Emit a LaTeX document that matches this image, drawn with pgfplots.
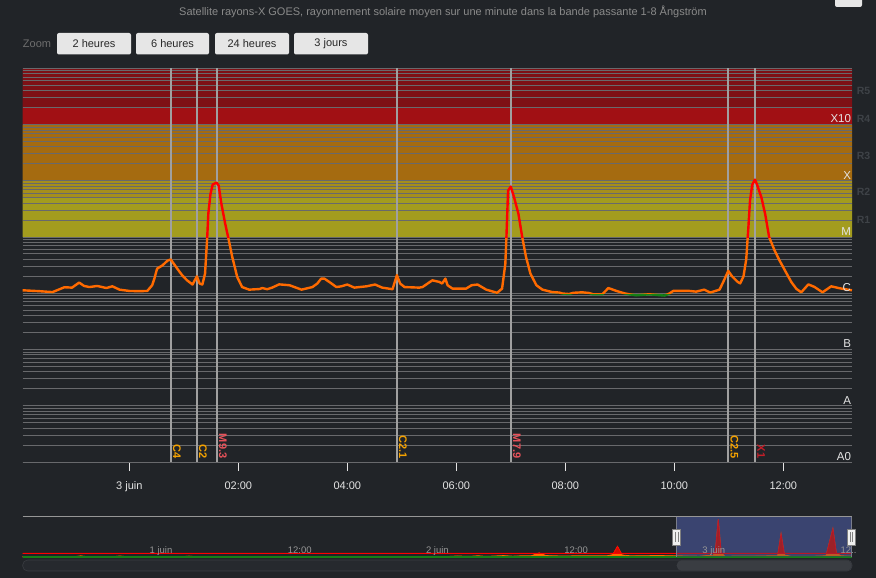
\documentclass[border=0pt]{standalone}
\usepackage{pgfplots}
\usepackage{pgfplotstable}
\pgfplotsset{compat=1.18}
\usepackage{fontspec}
\setmainfont{Liberation Sans}

\definecolor{bg}{RGB}{33,36,40}
\definecolor{gridc}{RGB}{104,105,108}
\definecolor{rfive}{RGB}{126,16,21}
\definecolor{rfour}{RGB}{161,16,20}
\definecolor{rthree}{RGB}{165,107,16}
\definecolor{rtwo}{RGB}{165,143,28}
\definecolor{rone}{RGB}{163,156,30}
\definecolor{fluxorange}{RGB}{255,106,0}
\definecolor{fluxred}{RGB}{255,0,0}
\definecolor{fluxgreen}{RGB}{22,128,22}
\definecolor{flareline}{RGB}{160,160,160}
\definecolor{labC}{RGB}{245,162,0}
\definecolor{labM}{RGB}{232,82,90}
\definecolor{labX}{RGB}{196,30,40}
\definecolor{txt}{RGB}{228,228,228}
\definecolor{titlec}{RGB}{138,138,138}
\definecolor{rlab}{RGB}{62,66,71}
\definecolor{btn}{RGB}{230,230,230}
\definecolor{btntxt}{RGB}{40,40,40}
\definecolor{navsel}{RGB}{58,68,112}
\definecolor{navline}{RGB}{150,150,150}
\definecolor{navtxt}{RGB}{150,150,150}
\definecolor{scrolltrack}{RGB}{38,41,46}
\definecolor{scrollthumb}{RGB}{58,61,66}

% GOES 1-8 A one-minute flux (hours from 3 June 00:00, W/m^2)
\pgfplotstableread{
h flux
-1.96 1.13e-6
-1.65 1.09e-6
-1.41 1.05e-6
-1.28 1.18e-6
-1.19 1.28e-6
-1.05 1.26e-6
-0.92 1.55e-6
-0.83 1.35e-6
-0.73 1.29e-6
-0.59 1.35e-6
-0.42 1.24e-6
-0.31 1.33e-6
-0.18 1.16e-6
0.00 1.10e-6
0.18 1.09e-6
0.33 1.10e-6
0.42 1.39e-6
0.46 1.82e-6
0.51 2.74e-6
0.61 3.14e-6
0.70 3.80e-6
0.76 4.00e-6
0.88 2.74e-6
0.97 2.09e-6
1.06 1.70e-6
1.16 1.43e-6
1.24 2.00e-6
1.29 1.49e-6
1.34 1.43e-6
1.39 2.24e-6
1.43 9.96e-6
1.45 2.62e-5
1.49 5.86e-5
1.53 8.57e-5
1.60 9.30e-5
1.64 8.22e-5
1.69 3.89e-5
1.76 1.72e-5
1.82 9.33e-6
1.89 4.40e-6
1.98 1.95e-6
2.07 1.29e-6
2.20 1.16e-6
2.39 1.19e-6
2.44 1.24e-6
2.53 1.18e-6
2.62 1.26e-6
2.75 1.44e-6
2.94 1.39e-6
3.16 1.16e-6
3.36 1.29e-6
3.45 1.49e-6
3.52 1.82e-6
3.58 1.82e-6
3.67 1.59e-6
3.80 1.29e-6
3.89 1.33e-6
4.00 1.43e-6
4.13 1.26e-6
4.35 1.33e-6
4.51 1.43e-6
4.64 1.26e-6
4.83 1.18e-6
4.91 2.10e-6
4.97 1.49e-6
5.05 1.29e-6
5.32 1.26e-6
5.38 1.29e-6
5.56 1.70e-6
5.69 1.59e-6
5.74 1.49e-6
5.80 1.82e-6
5.84 1.39e-6
5.93 1.21e-6
6.18 1.21e-6
6.28 1.39e-6
6.39 1.43e-6
6.55 1.16e-6
6.75 1.02e-6
6.84 1.21e-6
6.90 3.36e-6
6.92 9.96e-6
6.95 6.70e-5
7.00 7.90e-5
7.06 5.10e-5
7.14 2.59e-5
7.21 9.96e-6
7.28 4.40e-6
7.36 2.24e-6
7.47 1.39e-6
7.58 1.16e-6
7.76 1.05e-6
7.89 1.03e-6
7.95 0.99e-6
8.07 0.97e-6
8.15 1.02e-6
8.31 1.04e-6
8.44 1.01e-6
8.51 0.96e-6
8.68 0.96e-6
8.79 1.24e-6
8.94 1.10e-6
9.08 1.00e-6
9.17 0.96e-6
9.30 0.92e-6
9.54 0.96e-6
9.82 0.91e-6
9.91 0.99e-6
9.98 1.10e-6
10.28 1.10e-6
10.40 1.07e-6
10.55 1.16e-6
10.66 1.03e-6
10.83 1.16e-6
10.90 1.60e-6
10.99 2.50e-6
11.06 2.00e-6
11.16 1.60e-6
11.21 1.50e-6
11.27 2.00e-6
11.32 4.00e-6
11.36 1.50e-5
11.39 4.50e-5
11.43 8.50e-5
11.48 1.05e-4
11.52 8.50e-5
11.60 5.00e-5
11.67 2.50e-5
11.74 1.00e-5
11.84 5.80e-6
11.93 3.85e-6
12.06 2.26e-6
12.15 1.57e-6
12.24 1.20e-6
12.33 1.04e-6
12.46 1.44e-6
12.57 1.30e-6
12.72 1.04e-6
12.88 1.33e-6
13.03 1.23e-6
13.26 1.13e-6
}\fluxdata

% three-day overview (hours from 3 June 00:00, flux in 1e-5 W/m^2)
\pgfplotstableread{
h v
-58.74 0.10
-54.2 0.10
-53.7 0.28
-53.2 0.10
-50.8 0.10
-50.3 0.25
-49.8 0.10
-44.8 0.10
-44.3 0.22
-43.8 0.10
-22.0 0.10
-21.0 0.25
-20.0 0.15
-19.2 0.30
-18.5 0.15
-17.0 0.35
-16.2 0.20
-15.4 0.30
-14.6 0.28
-13.9 1.00
-13.3 0.35
-12.0 0.25
-10.0 0.30
-8.0 0.30
-7.5 0.60
-7.1 2.60
-6.7 0.50
-6.0 0.30
-3.5 0.35
-2.0 0.30
0.0 0.20
0.8 0.40
1.2 0.30
1.4 1.50
1.65 9.30
1.9 1.20
2.2 0.20
5.0 0.25
6.8 0.30
7.1 5.70
7.4 0.50
8.0 0.15
10.0 0.20
11.0 0.30
11.6 7.00
11.9 1.00
12.3 0.30
13.26 0.20
}\navdata

\newcommand\flarefont{\fontsize{11}{11}\selectfont\bfseries}
\newcommand\ylabfont{\fontsize{11.5}{12}\selectfont}

\begin{document}
\begin{tikzpicture}
\fill[bg] (0,0) rectangle (876pt,-578pt);

% title and zoom buttons
\node[titlec, font=\fontsize{11}{12}\selectfont] at (443pt,-12pt) {Satellite rayons-X GOES, rayonnement solaire moyen sur une minute dans la bande passante 1-8 Ångström};
\fill[btn, rounded corners=2pt] (835pt,3pt) rectangle (862pt,-7pt);
\node[titlec!80!black, font=\fontsize{11}{12}\selectfont] at (37pt,-44pt) {Zoom};
\foreach \xa/\xb/\lab in {57/131/2 heures, 136/209/6 heures, 215/289/24 heures, 294/368/3 jours}{
  \fill[btn, rounded corners=2pt] (\xa pt,-33pt) rectangle (\xb pt,-54.5pt);
  \node[btntxt, font=\fontsize{11}{12}\selectfont] at ({(\xa+\xb)/2*1pt},-44pt) {\lab};
}

% radio blackout bands R1..R5 (drawn first, beneath the grid)
\begin{axis}[at={(22.7pt,-462pt)}, anchor=south west, scale only axis,
  width=829.3pt, height=393.7pt, xmin=-1.956, xmax=13.261,
  ymode=log, ymin=1e-9, ymax=1e-2, hide axis]
\addplot[fill=rone, draw=none] coordinates {(-3,1e-5) (14,1e-5) (14,5e-5) (-3,5e-5) (-3,1e-5)};
\addplot[fill=rtwo, draw=none] coordinates {(-3,5e-5) (14,5e-5) (14,1e-4) (-3,1e-4) (-3,5e-5)};
\addplot[fill=rthree, draw=none] coordinates {(-3,1e-4) (14,1e-4) (14,1e-3) (-3,1e-3) (-3,1e-4)};
\addplot[fill=rfour, draw=none] coordinates {(-3,1e-3) (14,1e-3) (14,2e-3) (-3,2e-3) (-3,1e-3)};
\addplot[fill=rfive, draw=none] coordinates {(-3,2e-3) (14,2e-3) (14,1e-2) (-3,1e-2) (-3,2e-3)};
\end{axis}

\begin{axis}[
  at={(22.7pt,-462pt)}, anchor=south west,
  scale only axis, width=829.3pt, height=393.7pt,
  xmin=-1.956, xmax=13.261,
  ymode=log, ymin=1e-9, ymax=1e-2,
  axis x line*=bottom, axis y line*=left,
  x axis line style={gridc, line width=1pt},
  y axis line style={draw=none},
  ytick={1e-9,1e-8,1e-7,1e-6,1e-5,1e-4,1e-3,1e-2},
  yticklabels={}, y tick style={draw=none},
  ymajorgrids, yminorgrids,
  major grid style={gridc, line width=1pt},
  minor grid style={gridc, line width=1pt},
  xtick={0,2,4,6,8,10,12}, xticklabels={},
  tick align=outside, major tick length=9pt,
  x tick style={txt, line width=1pt},
]
% flare peak markers
\draw[flareline, line width=2pt] (axis cs:0.760,1e-9) -- (axis cs:0.760,1e-2);
\draw[flareline, line width=2pt] (axis cs:1.237,1e-9) -- (axis cs:1.237,1e-2);
\draw[flareline, line width=2pt] (axis cs:1.604,1e-9) -- (axis cs:1.604,1e-2);
\draw[flareline, line width=2pt] (axis cs:4.906,1e-9) -- (axis cs:4.906,1e-2);
\draw[flareline, line width=2pt] (axis cs:6.998,1e-9) -- (axis cs:6.998,1e-2);
\draw[flareline, line width=2pt] (axis cs:10.991,1e-9) -- (axis cs:10.991,1e-2);
\draw[flareline, line width=2pt] (axis cs:11.481,1e-9) -- (axis cs:11.481,1e-2);

% flare class labels
\node[labC, font=\flarefont, rotate=-90, anchor=base east, inner sep=0pt] at ([xshift=2.4pt,yshift=3.5pt]axis cs:0.760,1e-9) {C4};
\node[labC, font=\flarefont, rotate=-90, anchor=base east, inner sep=0pt] at ([xshift=2.4pt,yshift=3.5pt]axis cs:1.237,1e-9) {C2};
\node[labM, font=\flarefont, rotate=-90, anchor=base east, inner sep=0pt] at ([xshift=2.4pt,yshift=3.5pt]axis cs:1.604,1e-9) {M9.3};
\node[labC, font=\flarefont, rotate=-90, anchor=base east, inner sep=0pt] at ([xshift=2.4pt,yshift=3.5pt]axis cs:4.906,1e-9) {C2.1};
\node[labM, font=\flarefont, rotate=-90, anchor=base east, inner sep=0pt] at ([xshift=2.4pt,yshift=3.5pt]axis cs:6.998,1e-9) {M7.9};
\node[labC, font=\flarefont, rotate=-90, anchor=base east, inner sep=0pt] at ([xshift=2.4pt,yshift=3.5pt]axis cs:10.991,1e-9) {C2.5};
\node[labX, font=\flarefont, rotate=-90, anchor=base east, inner sep=0pt] at ([xshift=2.4pt,yshift=3.5pt]axis cs:11.481,1e-9) {X1};

\coordinate (t0) at (axis cs:0,1e-9);
\coordinate (t2) at (axis cs:2,1e-9);
\coordinate (t4) at (axis cs:4,1e-9);
\coordinate (t6) at (axis cs:6,1e-9);
\coordinate (t8) at (axis cs:8,1e-9);
\coordinate (t10) at (axis cs:10,1e-9);
\coordinate (t12) at (axis cs:12,1e-9);
\coordinate (cX10) at (axis cs:13.261,1e-3);
\coordinate (cX) at (axis cs:13.261,1e-4);
\coordinate (cM) at (axis cs:13.261,1e-5);
\coordinate (cC) at (axis cs:13.261,1e-6);
\coordinate (cB) at (axis cs:13.261,1e-7);
\coordinate (cA) at (axis cs:13.261,1e-8);
\coordinate (cA0) at (axis cs:13.261,1e-9);
\coordinate (R5) at (axis cs:13.261,4.47e-3);
\coordinate (R4) at (axis cs:13.261,1.414e-3);
\coordinate (R3) at (axis cs:13.261,3.16e-4);
\coordinate (R2) at (axis cs:13.261,7.07e-5);
\coordinate (R1) at (axis cs:13.261,2.24e-5);
\end{axis}

% time labels under the ticks
\foreach \c/\lab in {t0/3 juin, t2/02:00, t4/04:00, t6/06:00, t8/08:00, t10/10:00, t12/12:00}{
  \node[txt, font=\fontsize{11}{12}\selectfont, anchor=base, inner sep=0pt] at ([yshift=-27pt]\c) {\lab};
}

% flux curve: below C in green, C class in orange, M and above in red
% (one log axis per class, stacked, so each clips its own colour)
\begin{axis}[at={(22.7pt,-462pt)}, anchor=south west, scale only axis,
  width=829.3pt, height=168.73pt, xmin=-1.956, xmax=13.261,
  ymode=log, ymin=1e-9, ymax=1e-6, hide axis]
\addplot[fluxgreen, line width=2.4pt, line join=round] table[x=h,y=flux] {\fluxdata};
\end{axis}
\begin{axis}[at={(22.7pt,-293.27pt)}, anchor=south west, scale only axis,
  width=829.3pt, height=56.243pt, xmin=-1.956, xmax=13.261,
  ymode=log, ymin=1e-6, ymax=1e-5, hide axis]
\addplot[fluxorange, line width=2.4pt, line join=round] table[x=h,y=flux] {\fluxdata};
\end{axis}
\begin{axis}[at={(22.7pt,-237.03pt)}, anchor=south west, scale only axis,
  width=829.3pt, height=168.73pt, xmin=-1.956, xmax=13.261,
  ymode=log, ymin=1e-5, ymax=1e-2, hide axis]
\addplot[fluxred, line width=2.4pt, line join=round] table[x=h,y=flux] {\fluxdata};
\end{axis}

% class labels on the right edge
\foreach \c/\lab in {cX10/X10, cX/X, cM/M, cC/C, cB/B, cA/A, cA0/A0}{
  \node[txt, font=\ylabfont, anchor=base east, inner sep=0pt] at ([xshift=-0.8pt,yshift=1.6pt]\c) {\lab};
}
\foreach \r in {R5,R4,R3,R2,R1}{
  \node[rlab, font=\fontsize{10.5}{11}\selectfont\bfseries] at ([xshift=11.5pt,yshift=-3pt]\r) {\r};
}

% navigator: three-day overview
\begin{axis}[at={(22.7pt,-557pt)}, anchor=south west, scale only axis,
  width=829.3pt, height=40.5pt, xmin=-58.74, xmax=13.26,
  ymin=0, ymax=10, hide axis]
\addplot[fill=navsel, draw=none] coordinates {(-1.956,0) (13.26,0) (13.26,10) (-1.956,10) (-1.956,0)};
\addplot[fill=fluxorange, draw=fluxorange, line width=0.8pt] table[x=h,y=v] {\navdata} \closedcycle;
\addplot[fluxgreen, line width=1.2pt] coordinates {(-58.74,0) (13.26,0)};
\coordinate (n1) at (axis cs:-48,0);
\coordinate (n2) at (axis cs:-36,0);
\coordinate (n3) at (axis cs:-24,0);
\coordinate (n4) at (axis cs:-12,0);
\coordinate (n5) at (axis cs:0,0);
\coordinate (n6) at (axis cs:12,0);
\end{axis}
\begin{axis}[at={(22.7pt,-553.355pt)}, anchor=south west, scale only axis,
  width=829.3pt, height=36.855pt, xmin=-58.74, xmax=13.26,
  ymin=0.9, ymax=10, hide axis]
\addplot[fill=fluxred!80!black, fill opacity=0.85, draw=fluxred, line width=0.8pt] table[x=h,y=v] {\navdata} \closedcycle;
\end{axis}
\fill[navsel, opacity=0.35] (676.7pt,-516.5pt) rectangle (852pt,-557pt);
\foreach \c/\lab in {n1/1 juin, n2/12:00, n3/2 juin, n4/12:00, n5/3 juin, n6/12..}{
  \node[navtxt, font=\fontsize{9.5}{10}\selectfont, anchor=base west, inner sep=0pt] at ([xshift=3pt,yshift=4pt]\c) {\lab};
}

% navigator frame, handles and scrollbar
\draw[navline, line width=0.8pt] (22.7pt,-516.5pt) -- (852pt,-516.5pt);
\draw[navline!70!navsel, line width=0.6pt] (676.7pt,-516.5pt) -- (676.7pt,-557pt);
\draw[navline!70!navsel, line width=0.6pt] (851.5pt,-516.5pt) -- (851.5pt,-557pt);
\foreach \hx in {676.7, 851.3}{
  \filldraw[fill=white!94!black, draw=gray, line width=0.6pt] (\hx pt-4pt,-529pt) rectangle (\hx pt+4pt,-545pt);
  \draw[gray, line width=0.6pt] (\hx pt-1.2pt,-532pt) -- (\hx pt-1.2pt,-542pt);
  \draw[gray, line width=0.6pt] (\hx pt+1.2pt,-532pt) -- (\hx pt+1.2pt,-542pt);
}
\filldraw[fill=scrolltrack, draw=scrollthumb, line width=0.6pt, rounded corners=5pt] (22.7pt,-560pt) rectangle (852pt,-571pt);
\fill[scrollthumb, rounded corners=5pt] (676.7pt,-560.3pt) rectangle (851.7pt,-570.7pt);

% page extent
\pgfresetboundingbox
\path[use as bounding box] (0,0) rectangle (876pt,-578pt);
\end{tikzpicture}
\end{document}
